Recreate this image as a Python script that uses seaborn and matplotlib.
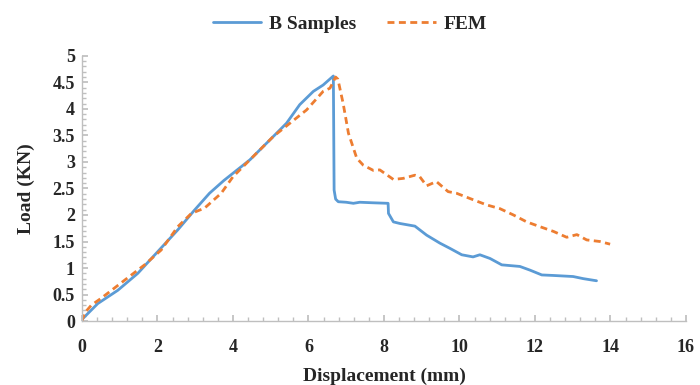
import numpy as np
import pandas as pd
import matplotlib
matplotlib.use("Agg")
import matplotlib.pyplot as plt
import seaborn as sns
from matplotlib.ticker import MultipleLocator, FormatStrFormatter
from matplotlib.lines import Line2D

# B Samples (experimental)
b_x = [0, 0.42, 0.95, 1.48, 2.01, 2.54, 2.98, 3.38, 3.76, 4.45, 5.07, 5.42, 5.77, 6.13, 6.39, 6.66,
       6.68, 6.72, 6.79, 7.0, 7.19, 7.36, 7.7, 8.11, 8.12, 8.25, 8.42, 8.82, 9.13, 9.48, 9.75, 10.06,
       10.36, 10.54, 10.81, 11.12, 11.6, 11.87, 12.18, 12.49, 13.01, 13.28, 13.63]
b_y = [0.03, 0.33, 0.58, 0.9, 1.31, 1.72, 2.09, 2.41, 2.65, 3.04, 3.48, 3.73, 4.08, 4.33, 4.45, 4.62,
       2.47, 2.3, 2.25, 2.24, 2.22, 2.24, 2.23, 2.22, 2.03, 1.87, 1.84, 1.79, 1.62, 1.47, 1.37, 1.25,
       1.21, 1.25, 1.18, 1.06, 1.03, 0.96, 0.87, 0.86, 0.84, 0.80, 0.76]

# FEM
f_x = [0, 0.07, 0.25, 0.51, 1.13, 1.66, 2.1, 2.54, 2.9, 3.25, 3.69, 4.0, 4.45, 5.07, 5.51, 5.95,
       6.39, 6.57, 6.72, 6.78, 6.92, 7.06, 7.28, 7.45, 7.72, 7.89, 8.25, 8.51, 8.82, 8.95, 9.13,
       9.39, 9.7, 9.92, 10.28, 10.72, 11.07, 11.43, 11.78, 12.13, 12.49, 12.84, 13.11, 13.37, 13.72, 13.99]
f_y = [0, 0.15, 0.3, 0.43, 0.77, 1.06, 1.34, 1.78, 2.03, 2.13, 2.41, 2.72, 3.04, 3.48, 3.73, 3.98,
       4.33, 4.39, 4.60, 4.56, 4.1, 3.54, 3.07, 2.94, 2.84, 2.85, 2.67, 2.69, 2.75, 2.72, 2.55,
       2.63, 2.44, 2.41, 2.31, 2.19, 2.12, 2.0, 1.87, 1.78, 1.69, 1.58, 1.63, 1.53, 1.50, 1.45]

series_names = ["B Samples", "FEM"]
colors = {"B Samples": "#5B9BD5", "FEM": "#ED7D31"}

df = pd.concat([
    pd.DataFrame({"x": b_x, "y": b_y, "series": series_names[0]}),
    pd.DataFrame({"x": f_x, "y": f_y, "series": series_names[1]}),
])

sns.set_theme(style="white")
plt.rcParams['font.family'] = ['Liberation Serif', 'DejaVu Serif']
plt.rcParams['font.weight'] = 'bold'

fig = plt.figure(figsize=(7, 3.85), dpi=100)
ax = fig.add_axes([0.117, 0.166, 0.863, 0.689])

sns.lineplot(data=df, x="x", y="y", hue="series", style="series", palette=colors,
             dashes={"B Samples": "", "FEM": (2.5, 1.6)}, sort=False, estimator=None,
             linewidth=2.0, ax=ax, legend=False)

ax.set_xlim(0, 16)
ax.set_ylim(0, 5)
ax.xaxis.set_major_locator(MultipleLocator(2))
ax.xaxis.set_minor_locator(MultipleLocator(0.4))
ax.yaxis.set_major_locator(MultipleLocator(0.5))
ax.yaxis.set_minor_locator(MultipleLocator(0.1))
ax.yaxis.set_major_formatter(FormatStrFormatter('%g'))

for s in ["top", "right"]:
    ax.spines[s].set_visible(False)
for s in ["left", "bottom"]:
    ax.spines[s].set_color("#BFBFBF")
    ax.spines[s].set_linewidth(1.0)

ax.tick_params(axis="both", which="major", direction="in", length=4, color="#BFBFBF",
               labelsize=13, bottom=True, left=True)
ax.tick_params(axis="x", which="major", pad=13)
ax.tick_params(axis="y", which="major", pad=5)
ax.tick_params(axis="both", which="minor", direction="in", length=3, color="#BFBFBF",
               bottom=True, left=True)
for lab in ax.get_xticklabels() + ax.get_yticklabels():
    lab.set_fontweight("bold")

ax.set_xlabel("Displacement (mm)", fontsize=14, fontweight="bold", labelpad=8)
ax.set_ylabel("Load (KN)", fontsize=14, fontweight="bold", labelpad=13)

handles = [Line2D([], [], color=colors["B Samples"], lw=2.0),
           Line2D([], [], color=colors["FEM"], lw=2.0, dashes=(2.5, 1.6))]
fig.legend(handles, series_names, loc="upper center", bbox_to_anchor=(0.5, 1.005), ncol=2,
           frameon=False, prop={"weight": "bold", "size": 14}, handlelength=2.5,
           columnspacing=1.6, handletextpad=0.4)

fig.savefig("out.png", dpi=100)
